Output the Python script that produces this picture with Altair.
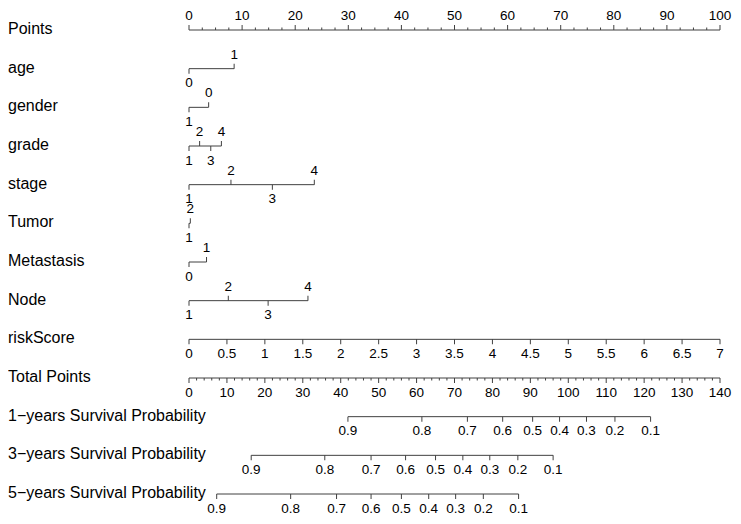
import altair as alt
import pandas as pd

# ---- data ----
row_names = ["Points", "age", "gender", "grade", "stage", "Tumor", "Metastasis",
             "Node", "riskScore", "Total Points",
             "1\u2212years Survival Probability",
             "3\u2212years Survival Probability",
             "5\u2212years Survival Probability"]

points_major = list(range(0, 101, 10))
points_minor = [i * 2.5 for i in range(41)]

age_levels = ["0", "1"]
age_pts = [0, 8.5]
gender_levels = ["1", "0"]
gender_pts = [0, 3.7]
grade_levels = ["1", "2", "3", "4"]
grade_pts = [0, 2.0, 4.1, 6.1]
stage_levels = ["1", "2", "3", "4"]
stage_pts = [0, 7.9, 15.7, 23.6]
tumor_levels = ["1", "2"]
tumor_pts = [0, 0.25]
metastasis_levels = ["0", "1"]
metastasis_pts = [0, 3.3]
node_levels = ["1", "2", "3", "4"]
node_pts = [0, 7.4, 14.9, 22.4]

risk_values = [0, 0.5, 1, 1.5, 2, 2.5, 3, 3.5, 4, 4.5, 5, 5.5, 6, 6.5, 7]
risk_max = 7

total_major = list(range(0, 141, 10))
total_minor = list(range(0, 141, 2))
total_max = 140

surv_labels = ["0.9", "0.8", "0.7", "0.6", "0.5", "0.4", "0.3", "0.2", "0.1"]
surv1_total = [41.9, 61.4, 73.4, 82.7, 90.6, 97.7, 104.8, 112.3, 121.7]
surv3_total = [16.4, 35.8, 48.0, 57.1, 65.0, 72.2, 79.3, 86.7, 96.0]
surv5_total = [7.3, 26.8, 38.9, 48.0, 56.0, 63.2, 70.3, 77.6, 86.9]

# ---- build tables ----
recs = []


def add(row, pts, labels, sides):
    for p, l, s in zip(pts, labels, sides):
        recs.append({"row": row, "pts": p, "label": l, "side": s})


def alt_sides(n):
    return ["down" if i % 2 == 0 else "up" for i in range(n)]


add(0, points_major, [str(v) for v in points_major], ["up"] * len(points_major))
add(1, age_pts, age_levels, alt_sides(2))
add(2, gender_pts, gender_levels, alt_sides(2))
add(3, grade_pts, grade_levels, alt_sides(4))
add(4, stage_pts, stage_levels, alt_sides(4))
add(5, tumor_pts, tumor_levels, alt_sides(2))
add(6, metastasis_pts, metastasis_levels, alt_sides(2))
add(7, node_pts, node_levels, alt_sides(4))
add(8, [v * 100 / risk_max for v in risk_values],
    [("%g" % v) for v in risk_values], ["down"] * len(risk_values))
add(9, [v * 100 / total_max for v in total_major],
    [str(v) for v in total_major], ["down"] * len(total_major))
for r, vals in [(10, surv1_total), (11, surv3_total), (12, surv5_total)]:
    add(r, [v * 100 / total_max for v in vals], surv_labels, ["down"] * len(vals))

ticks = pd.DataFrame(recs)
lines = ticks.groupby("row").agg(pts=("pts", "min"), pts2=("pts", "max")).reset_index()

minor_recs = [{"row": 0, "pts": v, "side": "up"} for v in points_minor if v % 10 != 0]
minor_recs += [{"row": 9, "pts": v * 100 / total_max, "side": "down"}
               for v in total_minor if v % 10 != 0]
minor = pd.DataFrame(minor_recs)

names = pd.DataFrame({"row": list(range(len(row_names))), "name": row_names})

# ---- encodings ----
FONT = "Liberation Sans"
LINE = "#404040"
TICK_FS = 13.5
xs = alt.Scale(domain=[0, 100], range=[181, 712], nice=False, zero=False)
ys = alt.Scale(domain=[0, 12], range=[22, 486], nice=False, zero=False)
X = alt.X("pts:Q", scale=xs, axis=None)
Y = alt.Y("row:Q", scale=ys, axis=None)

line_layer = alt.Chart(lines).mark_rule(color=LINE, strokeWidth=1).encode(
    x=X, x2="pts2:Q", y=Y)

up = alt.datum.side == "up"
down = alt.datum.side == "down"

tick_up = alt.Chart(ticks).transform_filter(up).mark_tick(
    orient="vertical", size=5, thickness=1, color=LINE, yOffset=-2.5, opacity=1
).encode(x=X, y=Y)
tick_down = alt.Chart(ticks).transform_filter(down).mark_tick(
    orient="vertical", size=5, thickness=1, color=LINE, yOffset=2.5, opacity=1
).encode(x=X, y=Y)
minor_up = alt.Chart(minor).transform_filter(up).mark_tick(
    orient="vertical", size=2.5, thickness=1, color=LINE, yOffset=-1.25, opacity=1
).encode(x=X, y=Y)
minor_down = alt.Chart(minor).transform_filter(down).mark_tick(
    orient="vertical", size=2.5, thickness=1, color=LINE, yOffset=1.25, opacity=1
).encode(x=X, y=Y)

lab_up = alt.Chart(ticks).transform_filter(up).mark_text(
    font=FONT, fontSize=TICK_FS, color="black", baseline="middle", dy=-14
).encode(x=X, y=Y, text="label:N")
lab_down = alt.Chart(ticks).transform_filter(down).mark_text(
    font=FONT, fontSize=TICK_FS, color="black", baseline="middle", dy=14.5
).encode(x=X, y=Y, text="label:N")

name_layer = alt.Chart(names).mark_text(
    font=FONT, fontSize=16, color="black", align="left", baseline="middle", dy=-1
).encode(x=alt.value(0), y=Y, text="name:N")

chart = alt.layer(
    line_layer, tick_up, tick_down, minor_up, minor_down, lab_up, lab_down, name_layer
).properties(
    width=725, height=508, padding=0,
    autosize=alt.AutoSizeParams(type="none")
).configure_view(stroke=None)

chart.save("out.html", embed_options={"renderer": "svg", "actions": False})
